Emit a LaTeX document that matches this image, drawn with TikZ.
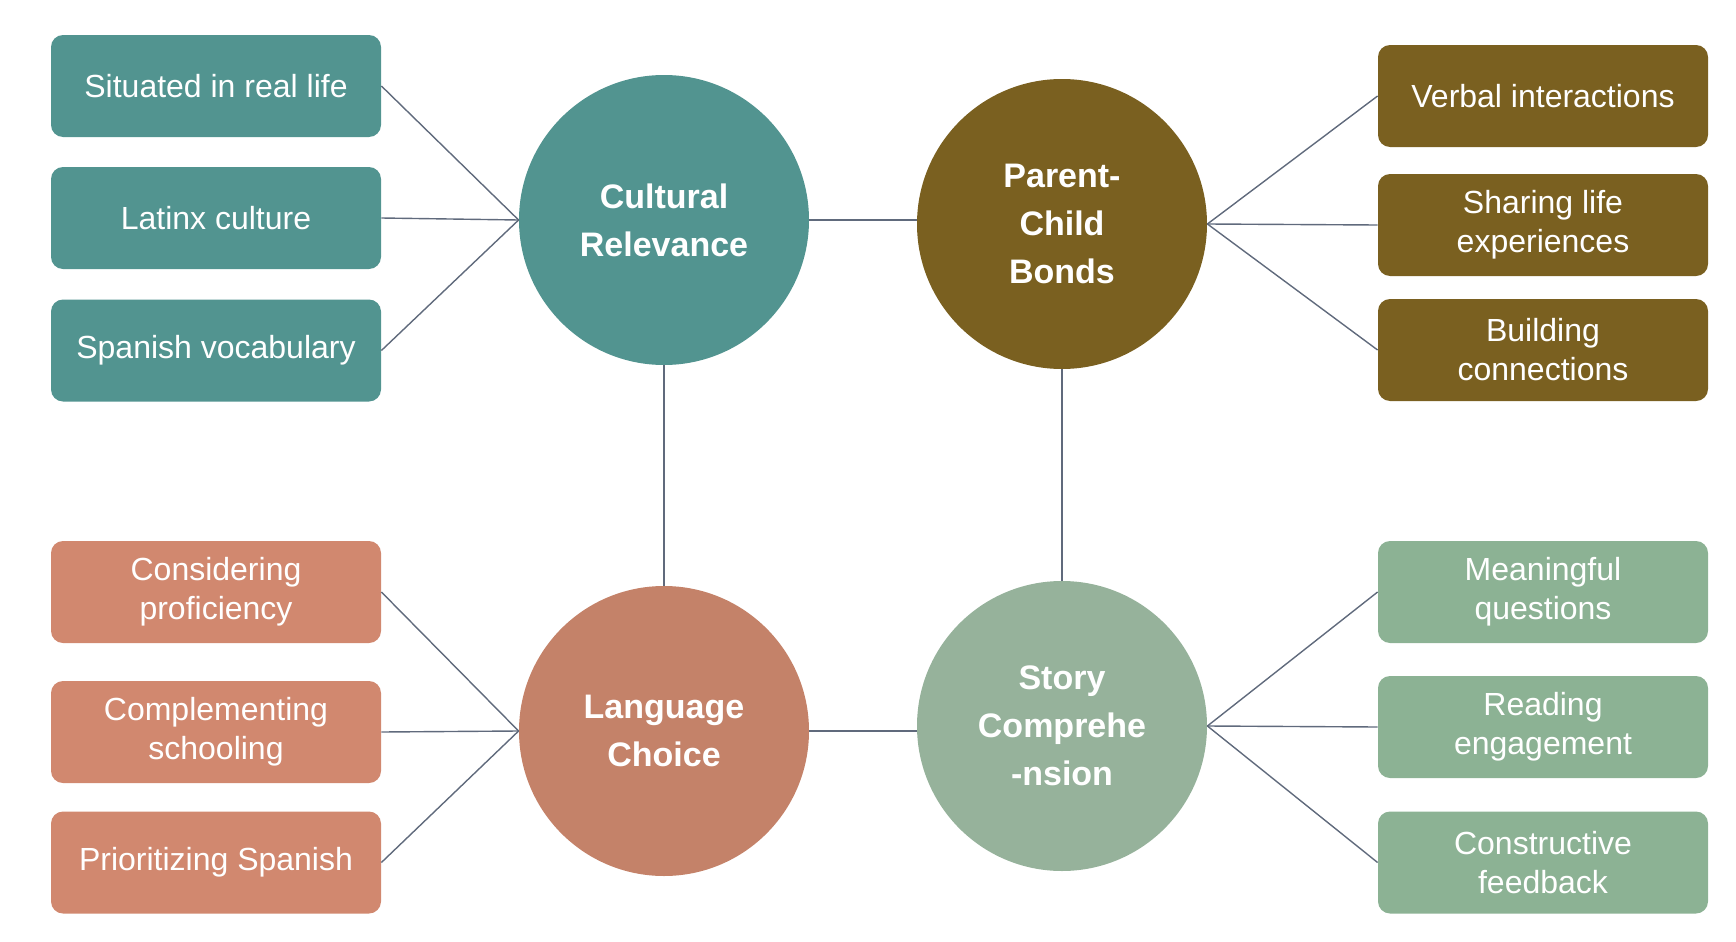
\documentclass[tikz,border=0pt]{standalone}
\usepackage{fontspec}
\setmainfont{Liberation Sans}
\usetikzlibrary{positioning}
\definecolor{crteal}{RGB}{82,148,144}
\definecolor{pcolive}{RGB}{122,96,32}
\definecolor{lcclay}{RGB}{196,130,105}
\definecolor{lcclaybox}{RGB}{209,136,111}
\definecolor{scsage}{RGB}{150,178,155}
\definecolor{scsagebox}{RGB}{140,178,148}
\definecolor{linkgray}{RGB}{96,106,124}
\begin{document}
\begin{tikzpicture}[x=0.5pt,y=-0.5pt,every node/.style={align=center,text=white},
    hub/.style={circle,minimum size=145pt,inner sep=0pt,font=\bfseries\fontsize{17}{24}\selectfont},
    leaf/.style={rounded corners=6pt,minimum width=165pt,minimum height=51pt,inner sep=2pt,font=\fontsize{16}{19.5}\selectfont},
    link/.style={draw=linkgray,line width=0.7pt}]
        \useasboundingbox (0,0) rectangle (1736,942);
        % hubs
        \node[hub,fill=crteal] (cult) at (664,220) {Cultural\\Relevance};
        \node[hub,fill=pcolive] (bond) at (1062,224) {Parent-\\Child\\Bonds};
        \node[hub,fill=lcclay] (lang) at (664,731) {Language\\Choice};
        \node[hub,fill=scsage] (story) at (1062,726) {Story\\Comprehe\\-nsion};
        % leaves
        \node[leaf,fill=crteal] (real) at (216,86) {Situated in real life};
        \node[leaf,fill=crteal] (latinx) at (216,218) {Latinx culture};
        \node[leaf,fill=crteal] (vocab) at (216,350.5) {Spanish vocabulary};
        \node[leaf,fill=pcolive] (verbal) at (1543,96) {Verbal interactions};
        \node[leaf,fill=pcolive] (sharing) at (1543,225) {Sharing life\\experiences};
        \node[leaf,fill=pcolive] (building) at (1543,350) {Building\\connections};
        \node[leaf,fill=lcclaybox] (prof) at (216,592) {Considering\\proficiency};
        \node[leaf,fill=lcclaybox] (school) at (216,732) {Complementing\\schooling};
        \node[leaf,fill=lcclaybox] (prior) at (216,862.5) {Prioritizing Spanish};
        \node[leaf,fill=scsagebox] (quest) at (1543,592) {Meaningful\\questions};
        \node[leaf,fill=scsagebox] (engage) at (1543,727) {Reading\\engagement};
        \node[leaf,fill=scsagebox] (feed) at (1543,862.5) {Constructive\\feedback};
        % links
        \draw[link] (cult.east)--(cult.east -| bond.west);
        \draw[link] (lang.east)--(lang.east -| story.west);
        \draw[link] (cult.south)--(lang.north);
        \draw[link] (bond.south)--(story.north);
        \foreach \leafname in {real,latinx,vocab} \draw[link] (\leafname.east)--(cult.west);
        \foreach \leafname in {verbal,sharing,building} \draw[link] (\leafname.west)--(bond.east);
        \foreach \leafname in {prof,school,prior} \draw[link] (\leafname.east)--(lang.west);
        \foreach \leafname in {quest,engage,feed} \draw[link] (\leafname.west)--(story.east);
      \end{tikzpicture}
\end{document}
